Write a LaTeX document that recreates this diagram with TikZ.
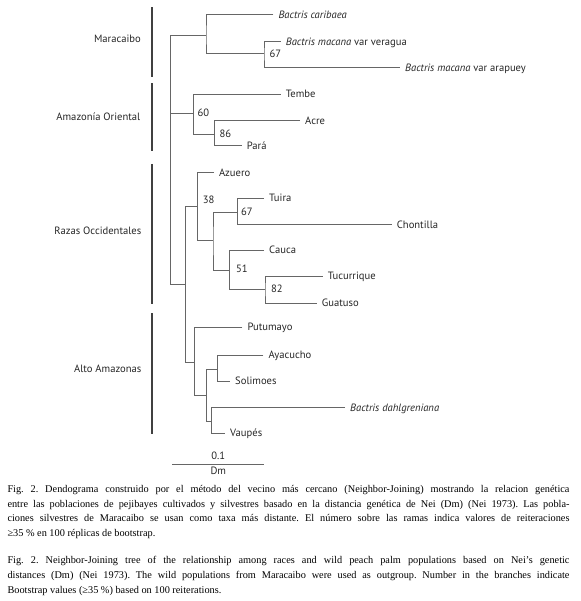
\documentclass[tikz,border=0pt]{standalone}
\usepackage{fontspec}
\setmainfont{Liberation Serif}
\newfontfamily\treefont{PT Sans}
\usepackage{tikz}
\newcommand\capsetup{\frenchspacing\hyphenpenalty=10000\relax\exhyphenpenalty=10000\relax\tolerance=9999\relax}

\begin{document}
\begin{tikzpicture}[x=1pt, y=-1pt,
  branch/.style={draw=black!60, line width=1pt},
  groupbar/.style={draw=black!75, line width=2pt},
  leaf/.style={anchor=west, inner xsep=5pt, inner ysep=0pt, text height=8pt, text depth=1pt,
    font=\treefont\fontsize{10.6}{12}\selectfont, text=black!85},
  boot/.style={anchor=west, inner sep=0pt, text height=8pt, text depth=1pt,
    font=\treefont\fontsize{10.6}{12}\selectfont, text=black!85},
  group/.style={anchor=east, inner sep=0pt, text height=8pt, text depth=1pt,
    font=\treefont\fontsize{10.6}{12}\selectfont, text=black!85},
  caption/.style={anchor=north west, inner sep=0pt, text width=562pt, align=justify,
    font=\fontsize{10.3}{14.8}\selectfont}]
\useasboundingbox (0,0) rectangle (580,601);

\draw[groupbar] (152.3,7.3) -- (152.3,77.3);
\draw[groupbar] (152.3,83.3) -- (152.3,150.7);
\draw[groupbar] (152.3,164) -- (152.3,304);
\draw[groupbar] (152.3,313.3) -- (152.3,434);
\node[group] (maracaibo) at (141,39.3) {Maracaibo};
\node[group] (oriental) at (140.5,117.3) {Amazonía Oriental};
\node[group] (occidental) at (141.5,231) {Razas Occidentales};
\node[group] (altoamazonas) at (141.5,369.3) {Alto Amazonas};

\coordinate (r) at (170.7,114);
\coordinate (m) at (206,36);
\coordinate (m2) at (264,54);
\coordinate (a) at (193.3,114);
\coordinate (a2) at (214.7,134.3);
\coordinate (w) at (185.7,284.3);
\coordinate (o) at (197.3,206.7);
\coordinate (o2) at (213,240.7);
\coordinate (o3) at (237.7,212.3);
\coordinate (o4) at (229.3,270.7);
\coordinate (o5) at (265,289.3);
\coordinate (u) at (194.3,362.7);
\coordinate (u2) at (206.7,395);
\coordinate (u3) at (217.7,369);
\coordinate (u4) at (211.7,421);

\node[leaf] (caribaea) at (273.3,15) {\textit{Bactris caribaea}};
\node[leaf] (veragua) at (280.7,41.7) {\textit{Bactris macana} var veragua};
\node[leaf] (arapuey) at (400,67.7) {\textit{Bactris macana} var arapuey};
\node[leaf] (tembe) at (280.7,94.3) {Tembe};
\node[leaf] (acre) at (300,120.7) {Acre};
\node[leaf] (para) at (241.7,146) {Pará};
\node[leaf] (azuero) at (214,172.7) {Azuero};
\node[leaf] (tuira) at (264,198.3) {Tuira};
\node[leaf] (chontilla) at (391.7,225) {Chontilla};
\node[leaf] (cauca) at (264,250) {Cauca};
\node[leaf] (tucurrique) at (322.7,276) {Tucurrique};
\node[leaf] (guatuso) at (316.7,303.3) {Guatuso};
\node[leaf] (putumayo) at (242.3,327.3) {Putumayo};
\node[leaf] (ayacucho) at (263.3,355) {Ayacucho};
\node[leaf] (solimoes) at (230,381) {Solimoes};
\node[leaf] (dahlgreniana) at (345,407.7) {\textit{Bactris dahlgreniana}};
\node[leaf] (vaupes) at (225,433.3) {Vaupés};

\draw[branch] (m) -| (r) |- (w);
\draw[branch] (r) -- (a);
\draw[branch] (caribaea.west) -| (m) |- (m2);
\draw[branch] (veragua.west) -| (m2) |- (arapuey.west);
\draw[branch] (tembe.west) -| (a) |- (a2);
\draw[branch] (acre.west) -| (a2) |- (para.west);
\draw[branch] (o) -| (w) |- (u);
\draw[branch] (azuero.west) -| (o) |- (o2);
\draw[branch] (o3) -| (o2) |- (o4);
\draw[branch] (tuira.west) -| (o3) |- (chontilla.west);
\draw[branch] (cauca.west) -| (o4) |- (o5);
\draw[branch] (tucurrique.west) -| (o5) |- (guatuso.west);
\draw[branch] (putumayo.west) -| (u) |- (u2);
\draw[branch] (u3) -| (u2) |- (u4);
\draw[branch] (ayacucho.west) -| (u3) |- (solimoes.west);
\draw[branch] (dahlgreniana.west) -| (u4) |- (vaupes.west);

\node[boot] (b67a) at (269.3,54.3) {67};
\node[boot] (b60) at (197.3,112.7) {60};
\node[boot] (b86) at (219.3,134.3) {86};
\node[boot] (b38) at (202.7,200) {38};
\node[boot] (b67b) at (241,212.3) {67};
\node[boot] (b51) at (236,269.3) {51};
\node[boot] (b82) at (271,289.3) {82};

\coordinate (scaleleft) at (172.3,464);
\coordinate (scaleright) at (264.3,464);
\draw[branch] (scaleleft) -- (scaleright);
\node[group, anchor=center] (scalevalue) at (218.3,456) {0.1};
\node[group, anchor=center] (scaleunit) at (218.3,471) {Dm};

\node[caption] (capes) at (7.3,485) {\capsetup Fig. 2. Dendograma construido por el método del vecino más cercano (Neighbor-Joining) mostrando la relacion genética\linebreak
entre las poblaciones de pejibayes cultivados y silvestres basado en la distancia genética de Nei (Dm) (Nei 1973). Las pobla-\linebreak
ciones silvestres de Maracaibo se usan como taxa más distante. El número sobre las ramas indica valores de reiteraciones\linebreak
≥35 \% en 100 réplicas de bootstrap.};
\node[caption] (capen) at (7.3,556) {\capsetup Fig. 2. Neighbor-Joining tree of the relationship among races and wild peach palm populations based on Nei’s genetic\linebreak
distances (Dm) (Nei 1973). The wild populations from Maracaibo were used as outgroup. Number in the branches indicate\linebreak
Bootstrap values (≥35 \%) based on 100 reiterations.};
\end{tikzpicture}
\end{document}
